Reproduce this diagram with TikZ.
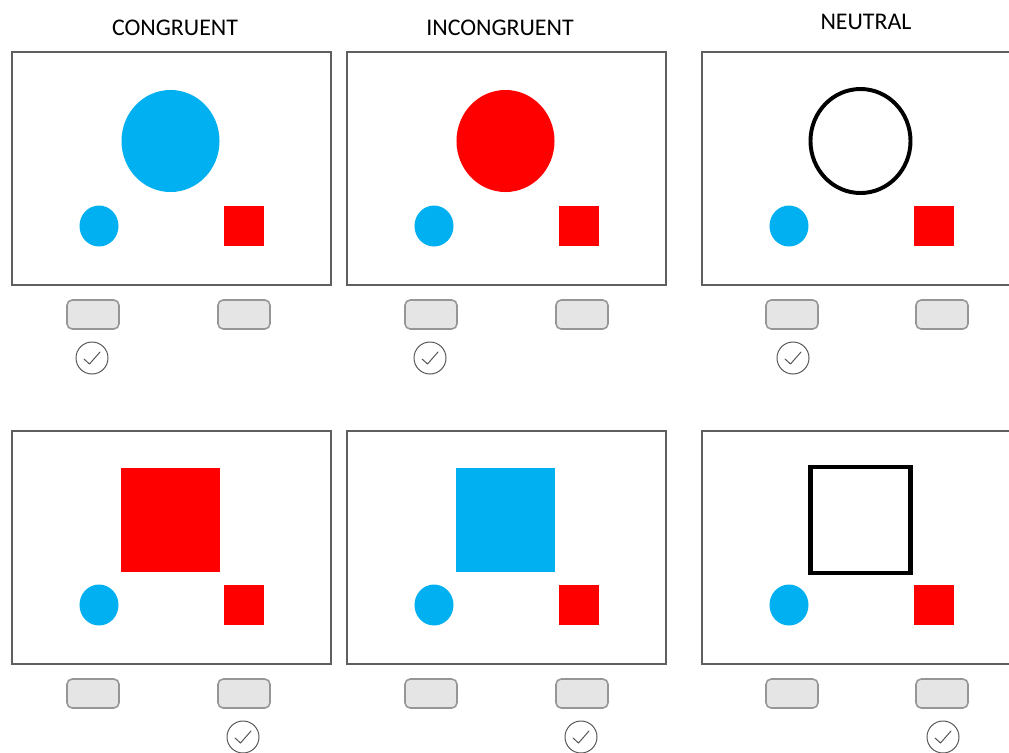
\documentclass[tikz,border=0pt]{standalone}
\usepackage{fontspec}
\setmainfont{Carlito}
\usetikzlibrary{shapes.geometric,positioning}
\definecolor{stimblue}{HTML}{00B0F0}
\definecolor{stimred}{HTML}{FF0000}
\definecolor{framegray}{RGB}{95,95,95}
\definecolor{keyfill}{RGB}{229,229,229}
\definecolor{keyline}{RGB}{150,150,150}
\definecolor{tickgray}{RGB}{85,85,85}
\tikzset{
  heading/.style={font=\fontsize{17}{20}\selectfont, text=black, inner sep=0pt},
  frame/.style={draw=framegray, line width=1.1pt, fill=white, anchor=north west,
                minimum width=7.975cm, minimum height=5.825cm, inner sep=0pt},
  bigdisc/.style={ellipse, minimum width=2.45cm, minimum height=2.55cm, inner sep=0pt},
  ringdisc/.style={ellipse, draw=black, line width=2.8pt, minimum width=2.5cm,
                   minimum height=2.6cm, inner sep=0pt},
  bigblock/.style={rectangle, minimum width=2.475cm, minimum height=2.6cm, inner sep=0pt},
  openblock/.style={rectangle, draw=black, line width=3.2pt, minimum width=2.5cm,
                    minimum height=2.65cm, inner sep=0pt},
  dot/.style={ellipse, fill=stimblue, minimum width=0.975cm, minimum height=1.025cm, inner sep=0pt},
  redsq/.style={rectangle, fill=stimred, minimum width=1cm, minimum height=1cm, inner sep=0pt},
  key/.style={rectangle, rounded corners=0.13cm, fill=keyfill, draw=keyline, line width=1.1pt,
              minimum width=1.3cm, minimum height=0.725cm, inner sep=0pt},
  tick/.style={circle, draw=tickgray, line width=0.7pt, minimum size=0.8cm, inner sep=0pt},
  tickmark/.style={tickgray, line width=0.7pt, line cap=round, line join=round},
}
% #1 name, #2 top-left corner, #3 big shape, #4/#5 key x, #6 tick x
\newcommand{\trial}[6]{%
  \begin{scope}[shift={(#2)}]
    \node[frame] (#1-frame) at (0,0) {};
    \node[#3] (#1-big) at (159.5,90) {};
    \node[dot] (#1-dot) at (88,175) {};
    \node[redsq] (#1-sq) at (233,175) {};
    \node[key] (#1-keyL) at (#4,263.5) {};
    \node[key] (#1-keyR) at (#5,263.5) {};
    \node[tick] (#1-tick) at (#6,307) {};
    \draw[tickmark] ([shift={(-8,1)}]#1-tick.center) -- ([shift={(-2.5,6)}]#1-tick.center)
      -- ([shift={(8,-6)}]#1-tick.center);
  \end{scope}}

\begin{document}
\begin{tikzpicture}[x=0.025cm, y=-0.025cm]
  \useasboundingbox (0,0) rectangle (1009,752);
  \clip (0,0) rectangle (1009,752);
  \node[heading] (h-con) at (175,28) {CONGRUENT};
  \node[heading] (h-inc) at (500,28) {INCONGRUENT};
  \node[heading] (h-neu) at (866,22) {NEUTRAL};
  % top row: circles
  \trial{con1}{11,51}{bigdisc, fill=stimblue}{82}{233}{81}
  \trial{inc1}{346,51}{bigdisc, fill=stimred}{85}{236}{84}
  \trial{neu1}{701,51}{ringdisc}{91}{241}{92}
  % bottom row: squares
  \trial{con2}{11,430}{bigblock, fill=stimred}{82}{233}{232}
  \trial{inc2}{346,430}{bigblock, fill=stimblue}{85}{236}{235}
  \trial{neu2}{701,430}{openblock}{91}{241}{242}
\end{tikzpicture}
\end{document}
